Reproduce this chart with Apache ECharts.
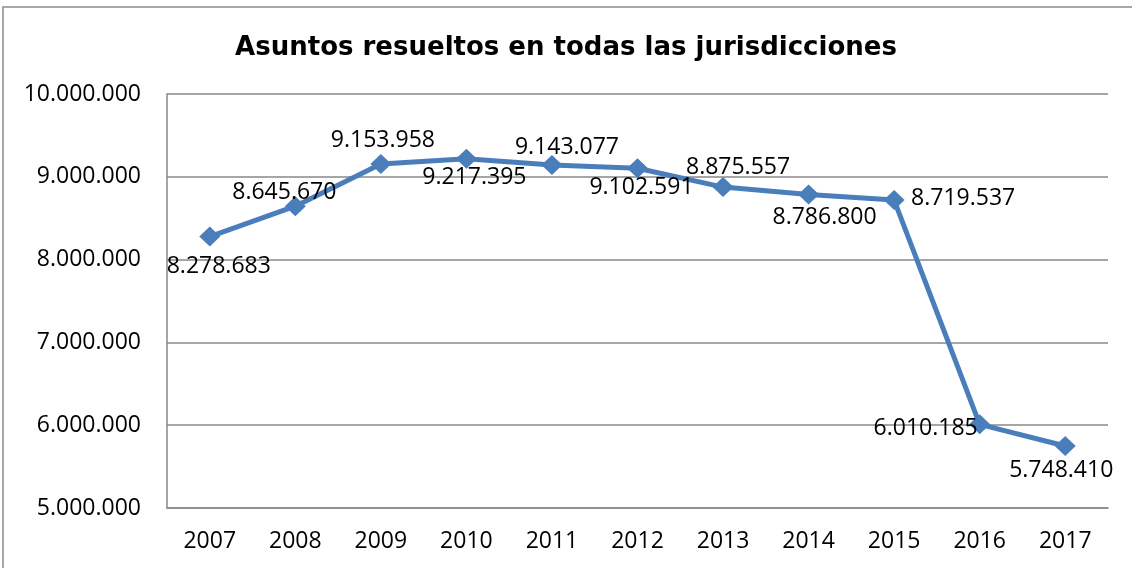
<!DOCTYPE html>
<html>
<head>
<meta charset="utf-8">
<script src="https://cdn.jsdelivr.net/npm/echarts@6/dist/echarts.min.js"></script>
<style>html,body{margin:0;padding:0;background:#fff;}#c{width:1132px;height:568px;}</style>
</head>
<body>
<div id="c"></div>
<script>
var titleText = 'Asuntos resueltos en todas las jurisdicciones';
var years = ['2007','2008','2009','2010','2011','2012','2013','2014','2015','2016','2017'];
var resueltos = [8278683, 8645670, 9153958, 9217395, 9143077, 9102591, 8875557, 8786800, 8719537, 6010185, 5748410];
var labelOffsets = [[9,30],[-11,-14],[2,-24],[8,19],[15,-18],[4,19],[15,-20],[16,23],[69,-2],[-54,4],[-4,24]];

function fmt(v){ return String(v).replace(/\B(?=(\d{3})+(?!\d))/g, '.'); }

var chart = echarts.init(document.getElementById('c'), null, {renderer:'canvas'});
var data = resueltos.map(function(v,i){
  return {value:v, label:{show:true, position:'inside', offset:labelOffsets[i]}};
});
chart.setOption({
  animation:false,
  backgroundColor:'#fff',
  title:{text:titleText, left:'center', top:30, textStyle:{fontFamily:'DejaVu Sans', fontWeight:'bold', fontSize:26, color:'#000'}},
  graphic:[{type:'rect', shape:{x:3,y:7,width:1200,height:700}, style:{fill:'none', stroke:'#8a8a8a', lineWidth:1.5}, silent:true, z:-1}],
  grid:{left:167, right:24, top:94, bottom:60},
  xAxis:{type:'category', data:years, boundaryGap:true,
    axisLine:{show:true, lineStyle:{color:'#888', width:1.5}}, axisTick:{show:false},
    axisLabel:{fontFamily:'Open Sans', fontSize:23, color:'#000', margin:22}},
  yAxis:{type:'value', min:5000000, max:10000000, interval:1000000,
    axisLine:{show:true, lineStyle:{color:'#888', width:1.5}}, axisTick:{show:false},
    splitLine:{lineStyle:{color:'#888', width:1.5}},
    axisLabel:{fontFamily:'Open Sans', fontSize:23, color:'#000', margin:26, formatter:fmt}},
  series:[{type:'line', data:data, symbol:'diamond', symbolSize:[21,20],
    lineStyle:{color:'#4a7ebb', width:5}, itemStyle:{color:'#4a7ebb'},
    label:{fontFamily:'Open Sans', fontSize:23, color:'#000', formatter:function(p){return fmt(p.value);}}}]
});
</script>
</body>
</html>
